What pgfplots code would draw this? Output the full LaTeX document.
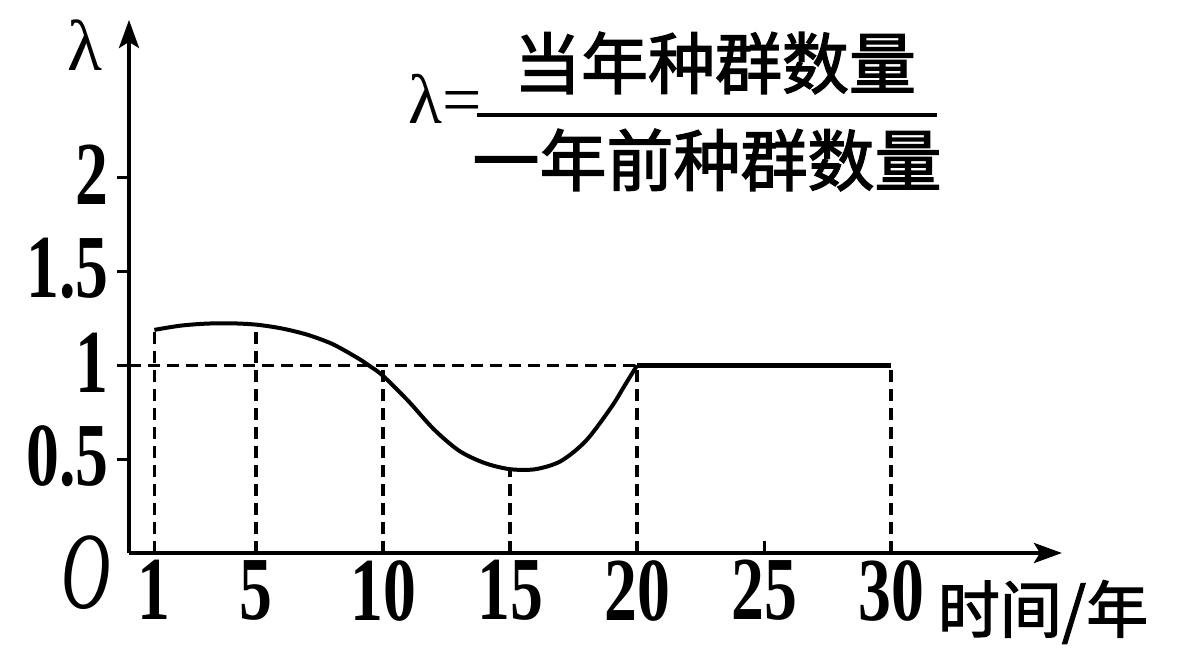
\documentclass[border=0pt]{standalone}
\usepackage{pgfplots}
\pgfplotsset{compat=1.18}
\usetikzlibrary{arrows.meta}
\usepackage{fontspec}
\setmainfont{Liberation Serif}
\newfontfamily\numfont{Liberation Serif}[FakeStretch=0.73]
\newfontfamily\ofont{Liberation Serif}[FakeStretch=0.62]
\newfontfamily\cjk{Noto Sans CJK SC}[FakeBold=2]

\begin{document}
\begin{tikzpicture}
\path[use as bounding box] (-64.5pt,-55.5pt) rectangle (526pt,276.5pt);
\begin{axis}[
  at={(0pt,0pt)}, anchor=south west,
  x=12.7pt, y=93.75pt,
  xmin=0, xmax=36.73, ymin=0, ymax=2.843,
  axis lines=left,
  axis line style={line width=2pt, -{Stealth[length=14pt,width=10pt,inset=3pt]}},
  clip=false,
  xtick={1,5,10,15,20,25,30},
  xticklabels={1,5,10,15,20,25,30},
  ytick={0.5,1,1.5,2},
  yticklabels={0.5,1,1.5,2},
  tick align=inside,
  major tick length=6pt,
  tick style={black, line width=1.5pt},
  y tick style={xshift=-6pt},
  ticklabel style={inner sep=0pt, font=\numfont\bfseries\fontsize{45}{48}\selectfont},
  xticklabel style={yshift=-3.5pt},
  yticklabel style={xshift=-10pt, yshift=1.5pt},
  /pgf/number format/assume math mode=true,
]
% reference lines
\addplot[black, line width=1.8pt, dash pattern=on 6pt off 3.5pt] coordinates {(0,1) (20,1)};
\addplot[black, line width=1.8pt, dash pattern=on 6pt off 3.5pt] coordinates {(1,0) (1,1.19)};
\addplot[black, line width=1.8pt, dash pattern=on 6pt off 3.5pt] coordinates {(5,0) (5,1.218)};
\addplot[black, line width=1.8pt, dash pattern=on 6pt off 3.5pt] coordinates {(10,0) (10,1)};
\addplot[black, line width=1.8pt, dash pattern=on 6pt off 3.5pt] coordinates {(15,0) (15,0.445)};
\addplot[black, line width=1.8pt, dash pattern=on 6pt off 3.5pt] coordinates {(20,0) (20,1)};
\addplot[black, line width=1.8pt, dash pattern=on 6pt off 3.5pt] coordinates {(30,0) (30,1)};
% lambda curve
\addplot[black, line width=2pt, smooth, tension=0.5] coordinates {
 (1,1.19) (2,1.212) (3,1.223) (4,1.225) (5,1.218) (6,1.198) (7,1.165)
 (8,1.115) (9,1.04) (9.5,0.995) (10,0.945) (11,0.81) (12,0.66) (13,0.545)
 (14,0.48) (15,0.447) (16,0.447) (17,0.49) (18,0.60) (19,0.78) (19.5,0.89) (20,1.0)};
\addplot[black, line width=2pt] coordinates {(20,1) (30,1)};
\end{axis}
% labels
\node at (-22pt,254pt) {\fontsize{36}{40}\selectfont λ};
\node at (-21.5pt,-10pt) {\ofont\itshape\fontsize{55}{58}\selectfont O};
\node at (457pt,-29.5pt) {\cjk\fontsize{31}{34}\selectfont 时间/年};
\node at (158pt,227pt) {\fontsize{35}{38}\selectfont λ=};
\node at (293pt,245pt) {\cjk\fontsize{33.5}{36}\selectfont 当年种群数量};
\draw[line width=1.8pt] (174pt,219pt) -- (404pt,219pt);
\node at (289pt,196.5pt) {\cjk\fontsize{33.5}{36}\selectfont 一年前种群数量};
\end{tikzpicture}
\end{document}
